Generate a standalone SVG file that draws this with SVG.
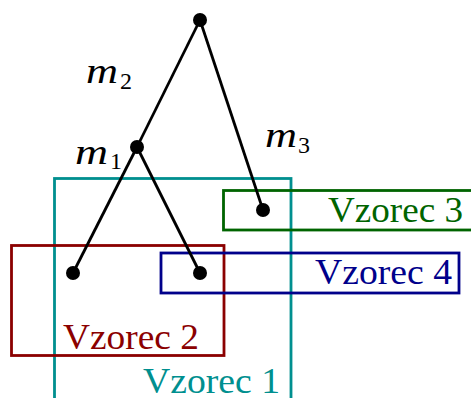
<svg xmlns="http://www.w3.org/2000/svg" width="471" height="398" viewBox="0 0 471 398">
<style>
.box{fill:none;stroke-width:2.8}
.lbl{font-family:"Liberation Serif","DejaVu Serif",serif;font-size:35px;text-anchor:end}
.m{font-family:"Liberation Serif","DejaVu Serif",serif;font-style:italic;font-size:35px}
.sub{font-family:"Liberation Serif","DejaVu Serif",serif;font-size:24px}
.edge{stroke:#000;stroke-width:2.8;fill:none}
</style>
<rect width="471" height="398" fill="#fff"/>
<g id="vzorec1">
<rect class="box" x="54.5" y="178.5" width="236.5" height="240" stroke="#008F8F"/>
<text class="lbl" x="280" y="393" fill="#008F8F" textLength="137" lengthAdjust="spacingAndGlyphs">Vzorec 1</text>
</g>
<g id="vzorec2">
<rect class="box" x="11.5" y="245.5" width="212.5" height="110" stroke="#8B0000"/>
<text class="lbl" x="199" y="349" fill="#8B0000" textLength="136" lengthAdjust="spacingAndGlyphs">Vzorec 2</text>
</g>
<g id="vzorec3">
<rect class="box" x="223.5" y="190.5" width="260" height="39.5" stroke="#006400"/>
<text class="lbl" x="463" y="222" fill="#006400" textLength="135" lengthAdjust="spacingAndGlyphs">Vzorec 3</text>
</g>
<g id="vzorec4">
<rect class="box" x="161" y="253" width="298" height="40" stroke="#00008B"/>
<text class="lbl" x="452" y="284" fill="#00008B" textLength="137" lengthAdjust="spacingAndGlyphs">Vzorec 4</text>
</g>
<g id="connectors">
<line class="edge" x1="200" y1="20" x2="137" y2="147"/>
<line class="edge" x1="200" y1="20" x2="263" y2="210"/>
<line class="edge" x1="137" y1="147" x2="73" y2="273"/>
<line class="edge" x1="137" y1="147" x2="200" y2="273"/>
</g>
<g id="root"><circle cx="200" cy="20" r="7"/></g>
<g id="n1"><circle cx="137" cy="147" r="7"/></g>
<g id="leaf1"><circle cx="73" cy="273" r="7"/></g>
<g id="leaf2"><circle cx="200" cy="273" r="7"/></g>
<g id="leaf3"><circle cx="263" cy="210" r="7"/></g>
<g id="labels">
<text x="86" y="83"><tspan class="m" textLength="32" lengthAdjust="spacingAndGlyphs">m</tspan></text>
<text class="sub" x="120" y="89">2</text>
<text x="75" y="164"><tspan class="m" textLength="33" lengthAdjust="spacingAndGlyphs">m</tspan></text>
<text class="sub" x="110" y="169">1</text>
<text x="265" y="147"><tspan class="m" textLength="32" lengthAdjust="spacingAndGlyphs">m</tspan></text>
<text class="sub" x="298" y="153">3</text>
</g>
</svg>
